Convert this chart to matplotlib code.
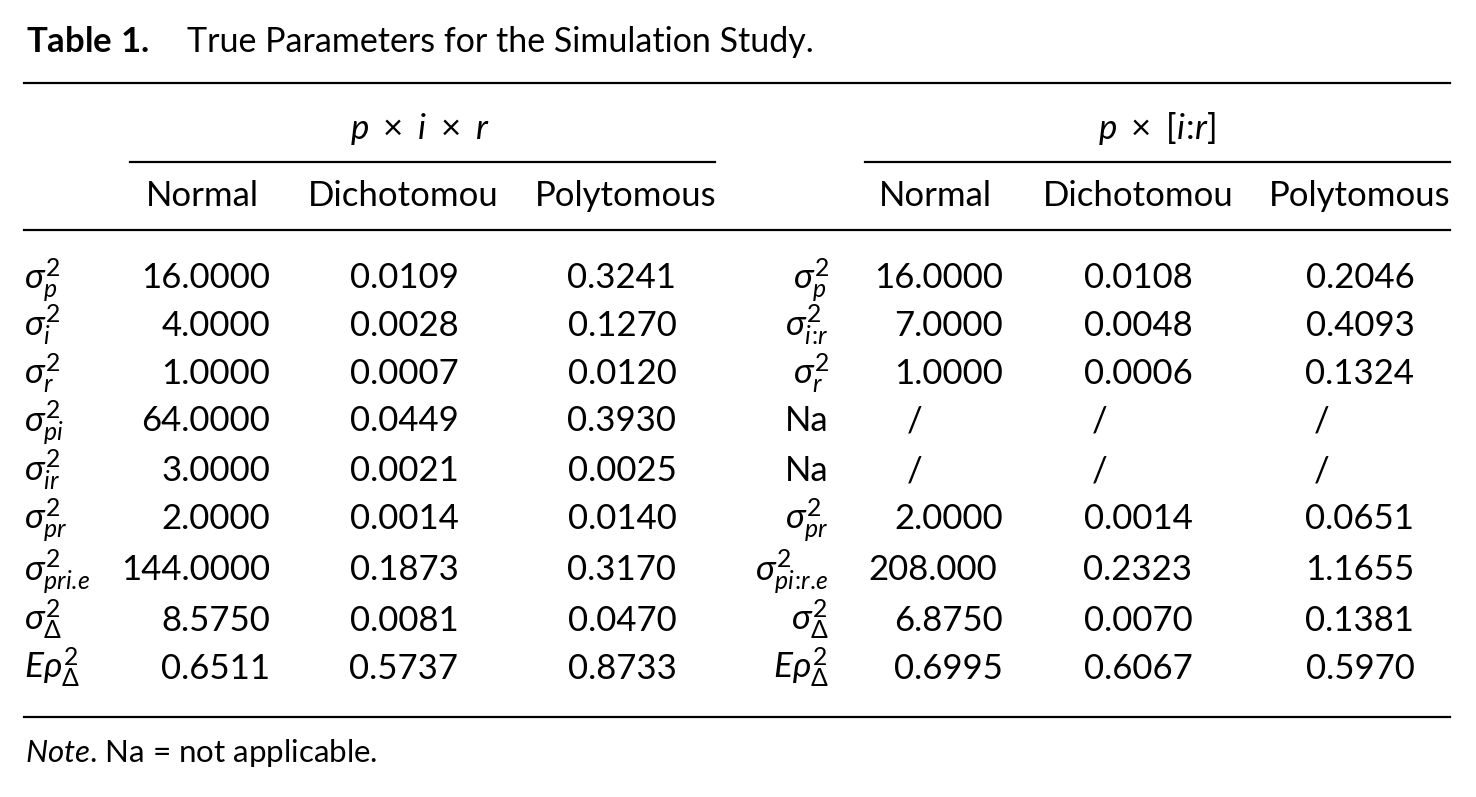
import matplotlib
matplotlib.use("Agg")
import matplotlib.pyplot as plt

plt.rcParams['font.family'] = ['Lato', 'DejaVu Sans']
plt.rcParams['mathtext.fontset'] = 'custom'
plt.rcParams['mathtext.rm'] = 'Lato'
plt.rcParams['mathtext.it'] = 'Lato:italic'
plt.rcParams['mathtext.bf'] = 'Lato:bold'

# table content
title_bold = r"$\bf{Table\ 1.}$"
title_text = "True Parameters for the Simulation Study."
group_labels = [r"$p\ \times\ i\ \times\ r$", r"$p\ \times\ $[$i\!:\!r$]"]
col_labels = ["Normal", "Dichotomou", "Polytomous"]

left_rows = [r"$\sigma^2_p$", r"$\sigma^2_i$", r"$\sigma^2_r$", r"$\sigma^2_{pi}$",
             r"$\sigma^2_{ir}$", r"$\sigma^2_{pr}$", r"$\sigma^2_{pri.\!e}$",
             r"$\sigma^2_\Delta$", r"$E\rho^2_\Delta$"]
right_rows = [r"$\sigma^2_p$", r"$\sigma^2_{i\!:\!r}$", r"$\sigma^2_r$", "Na", "Na",
              r"$\sigma^2_{pr}$", r"$\sigma^2_{pi\!:\!r.\!e}$", r"$\sigma^2_\Delta$",
              r"$E\rho^2_\Delta$"]

pir_normal = ["16.0000", "4.0000", "1.0000", "64.0000", "3.0000", "2.0000",
              "144.0000", "8.5750", "0.6511"]
pir_dich = ["0.0109", "0.0028", "0.0007", "0.0449", "0.0021", "0.0014",
            "0.1873", "0.0081", "0.5737"]
pir_poly = ["0.3241", "0.1270", "0.0120", "0.3930", "0.0025", "0.0140",
            "0.3170", "0.0470", "0.8733"]
pnest_normal = ["16.0000", "7.0000", "1.0000", "/", "/", "2.0000",
                "208.000", "6.8750", "0.6995"]
pnest_dich = ["0.0108", "0.0048", "0.0006", "/", "/", "0.0014",
              "0.2323", "0.0070", "0.6067"]
pnest_poly = ["0.2046", "0.4093", "0.1324", "/", "/", "0.0651",
              "1.1655", "0.1381", "0.5970"]

note_text = r"$\it{Note}$. Na = not applicable."

# layout (pixel coords)
W, H = 1476, 797
fs = 25
fs_lab = 25.5
row_base = [288, 336, 384, 431, 481, 529, 580, 631, 679]

fig = plt.figure(figsize=(W / 100, H / 100), dpi=100)
ax = fig.add_axes([0, 0, 1, 1])
ax.set_xlim(0, W)
ax.set_ylim(H, 0)
ax.axis('off')

ax.text(26, 52, title_bold, fontsize=fs, ha='left', va='baseline')
ax.text(187, 52, title_text, fontsize=24.5, ha='left', va='baseline')

lw = 1.6
ax.plot([24, 1450], [83, 83], color='black', lw=lw)
ax.plot([130, 715], [162, 162], color='black', lw=lw)
ax.plot([865, 1450], [162, 162], color='black', lw=lw)
ax.plot([24, 1450], [230, 230], color='black', lw=lw)
ax.plot([24, 1450], [717, 717], color='black', lw=lw)

ax.text(420, 139, group_labels[0], fontsize=fs, ha='center', va='baseline')
ax.text(1157, 139, group_labels[1], fontsize=fs, ha='center', va='baseline')

left_head_x = [202, 403, 626]
right_head_x = [935, 1138, 1360]
for x, lab in zip(left_head_x, col_labels):
    ax.text(x, 206, lab, fontsize=fs, ha='center', va='baseline')
for x, lab in zip(right_head_x, col_labels):
    ax.text(x, 206, lab, fontsize=fs, ha='center', va='baseline')

for y, lab in zip(row_base, left_rows):
    ax.text(24, y, lab, fontsize=fs_lab, ha='left', va='baseline')
for y, lab in zip(row_base, right_rows):
    size = fs if lab == "Na" else fs_lab
    ax.text(829, y, lab, fontsize=size, ha='right', va='baseline')

for y, v in zip(row_base, pir_normal):
    ax.text(270, y, v, fontsize=fs, ha='right', va='baseline')
for y, v in zip(row_base, pir_dich):
    ax.text(404, y, v, fontsize=fs, ha='center', va='baseline')
for y, v in zip(row_base, pir_poly):
    ax.text(622, y, v, fontsize=fs, ha='center', va='baseline')

slash_x = [915, 1100, 1322]
for y, v in zip(row_base, pnest_normal):
    if v == "/":
        ax.text(slash_x[0], y, v, fontsize=fs, ha='center', va='baseline')
    elif v == "208.000":
        ax.text(868, y, v, fontsize=fs, ha='left', va='baseline')
    else:
        ax.text(1003, y, v, fontsize=fs, ha='right', va='baseline')
for y, v in zip(row_base, pnest_dich):
    if v == "/":
        ax.text(slash_x[1], y, v, fontsize=fs, ha='center', va='baseline')
    else:
        ax.text(1138, y, v, fontsize=fs, ha='center', va='baseline')
for y, v in zip(row_base, pnest_poly):
    if v == "/":
        ax.text(slash_x[2], y, v, fontsize=fs, ha='center', va='baseline')
    else:
        ax.text(1360, y, v, fontsize=fs, ha='center', va='baseline')

ax.text(25, 762, note_text, fontsize=22.5, ha='left', va='baseline')

fig.savefig("out.png", dpi=100)
